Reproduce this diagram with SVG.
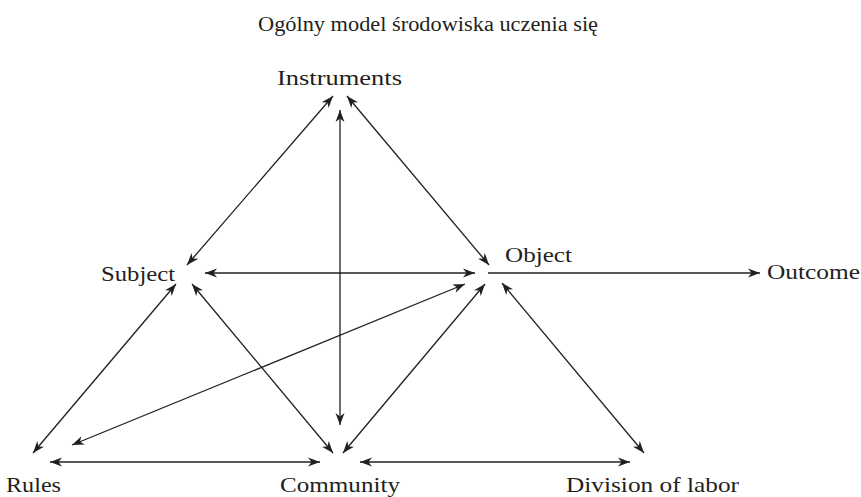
<svg xmlns="http://www.w3.org/2000/svg" width="861" height="497" viewBox="0 0 861 497">
<style>
text{font-family:"Liberation Serif","Times New Roman",serif;font-size:22px;fill:#231f20}
.c line{stroke:#231f20;stroke-width:1.3;marker-end:url(#ah)}
.c line.b{marker-start:url(#ah)}
</style>
<defs>
<marker id="ah" viewBox="0 0 12 10" refX="12" refY="5" markerWidth="12" markerHeight="10" markerUnits="userSpaceOnUse" orient="auto-start-reverse">
<path d="M0,0.5 L12,5 L0,9.5 L3.5,5 z" fill="#231f20"/>
</marker>
</defs>
<rect width="861" height="497" fill="#fff"/>
<text id="title" x="258" y="31" textLength="340" lengthAdjust="spacingAndGlyphs" style="font-size:20px">Ogólny model środowiska uczenia się</text>
<g id="instruments"><text x="277" y="85" textLength="125" lengthAdjust="spacingAndGlyphs">Instruments</text></g>
<g id="subject"><text x="101" y="281" textLength="74" lengthAdjust="spacingAndGlyphs">Subject</text></g>
<g id="object"><text x="505" y="262" textLength="67" lengthAdjust="spacingAndGlyphs">Object</text></g>
<g id="outcome"><text x="767" y="279" textLength="93" lengthAdjust="spacingAndGlyphs">Outcome</text></g>
<g id="rules"><text x="6" y="492" textLength="55" lengthAdjust="spacingAndGlyphs">Rules</text></g>
<g id="community"><text x="280" y="492" textLength="120" lengthAdjust="spacingAndGlyphs">Community</text></g>
<g id="division"><text x="566" y="492" textLength="173" lengthAdjust="spacingAndGlyphs">Division of labor</text></g>
<g id="connectors" class="c">
<line class="b" x1="333" y1="96" x2="187" y2="265"/>
<line class="b" x1="347" y1="96" x2="489" y2="265"/>
<line class="b" x1="340" y1="110" x2="340" y2="425"/>
<line class="b" x1="205" y1="273" x2="475" y2="273"/>
<line x1="488" y1="273" x2="760" y2="273"/>
<line class="b" x1="176" y1="284" x2="33" y2="453"/>
<line class="b" x1="192" y1="284" x2="333" y2="453"/>
<line class="b" x1="465" y1="284" x2="72" y2="445"/>
<line class="b" x1="485" y1="284" x2="343" y2="453"/>
<line class="b" x1="502" y1="283" x2="644" y2="453"/>
<line class="b" x1="50" y1="462" x2="320" y2="462"/>
<line class="b" x1="360" y1="462" x2="630" y2="462"/>
</g>
</svg>
